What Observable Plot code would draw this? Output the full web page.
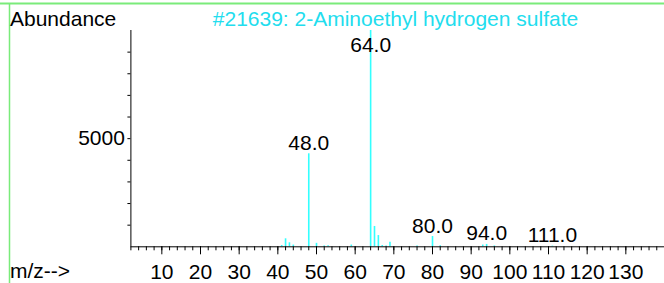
<!DOCTYPE html>
<html>
<head>
<meta charset="utf-8">
<script src="https://cdn.jsdelivr.net/npm/d3@7"></script>
<script src="https://cdn.jsdelivr.net/npm/@observablehq/plot@0.6"></script>
<style>
  html, body { margin: 0; padding: 0; background: white; overflow: hidden; }
  #chart svg { display: block; }
</style>
</head>
<body>
<div id="chart"></div>
<script>
// m/z values and abundances
const mz =        [41, 42,  43,  44, 48,   50,  52, 53, 59, 64,    65,  66,  67, 68, 69,  76, 80,  82, 93, 94,  96, 111];
const abundance = [60, 370, 185, 80, 4300, 160, 40, 50, 80, 10000, 940, 520, 60, 40, 215, 40, 475, 50, 80, 110, 40, 30];
const labeledPeaks = [48, 64, 80, 94, 111];
const majorTicks = [10, 20, 30, 40, 50, 60, 70, 80, 90, 100, 110, 120, 130];
const minorTicks = d3.range(2, 140, 2);
const yTicks = [1000, 2000, 3000, 4000, 5000, 6000, 7000, 8000, 9000];
const yLabeled = [5000];
const titleText = "#21639: 2-Aminoethyl hydrogen sulfate";
const yAxisTitle = "Abundance";
const xAxisTitle = "m/z-->";

const data = mz.map((m, i) => ({mz: m, ab: abundance[i]}));
const FS = 21;
const FONT = "'Liberation Sans', Arial, sans-serif";

const svg = Plot.plot({
  width: 664,
  height: 283,
  marginLeft: 130.4,
  marginRight: 0,
  marginTop: 30,
  marginBottom: 36.7,
  x: {domain: [2, 140], label: null},
  y: {domain: [0, 10000], label: null},
  style: {fontFamily: FONT, fontSize: FS + "px", background: "white", color: "black", overflow: "visible"},
  marks: [
    Plot.ruleX(data, {x: "mz", y1: 0, y2: "ab", stroke: "#33ffff", strokeWidth: 1.6}),
    Plot.ruleY([0], {stroke: "black", strokeWidth: 1}),
    Plot.ruleX([2], {stroke: "black", strokeWidth: 1}),
    Plot.axisX({ticks: minorTicks, tickSize: 4, tickFormat: () => "", label: null, stroke: "black"}),
    Plot.axisX({ticks: majorTicks, tickSize: 8, tickPadding: 9, label: null, fontSize: FS, fill: "black", stroke: "black"}),
    Plot.axisY({ticks: yTicks, tickSize: 3, tickPadding: 3, label: null, fontSize: FS, fill: "black", stroke: "black",
      tickFormat: d => yLabeled.includes(d) ? String(d) : ""}),
    Plot.text(data.filter(d => labeledPeaks.includes(d.mz)), {
      x: "mz", y: d => Math.min(d.ab, 8800), text: d => d.mz.toFixed(1),
      dy: -4, lineAnchor: "bottom", textAnchor: "middle", fill: "black", fontSize: FS
    })
  ]
});

const s = d3.select(svg);
// green frame lines
s.append("line").attr("x1", 0).attr("x2", 664).attr("y1", 3.5).attr("y2", 3.5)
  .attr("stroke", "#7aeb7a").attr("stroke-width", 2);
s.append("line").attr("x1", 9.5).attr("x2", 9.5).attr("y1", 3).attr("y2", 283)
  .attr("stroke", "#7aeb7a").attr("stroke-width", 1.5);
// texts
s.append("text").attr("x", 10).attr("y", 26).attr("text-anchor", "start").attr("font-family", FONT)
  .attr("font-size", FS).attr("fill", "black").text(yAxisTitle);
s.append("text").attr("x", 395.5).attr("y", 26).attr("text-anchor", "middle").attr("font-family", FONT)
  .attr("font-size", FS).attr("fill", "#22ddee").text(titleText);
s.append("text").attr("x", 10).attr("y", 278).attr("text-anchor", "start").attr("font-family", FONT)
  .attr("font-size", FS).attr("fill", "black").text(xAxisTitle);

document.getElementById("chart").appendChild(svg);
</script>
</body>
</html>
